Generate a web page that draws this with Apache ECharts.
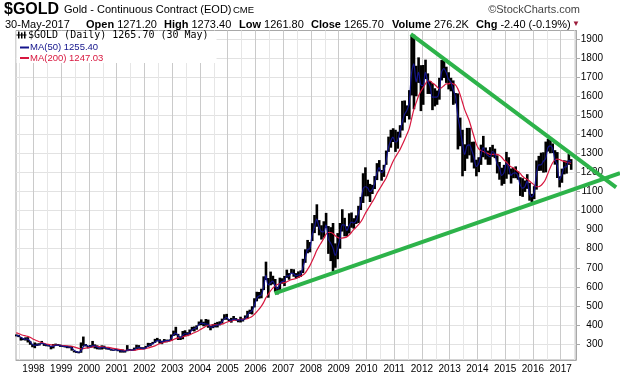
<!DOCTYPE html>
<html>
<head>
<meta charset="utf-8">
<script src="https://cdn.jsdelivr.net/npm/echarts@6/dist/echarts.min.js"></script>
<style>
  html, body { margin: 0; padding: 0; background: #fff; }
  #chart { width: 620px; height: 376px; }
</style>
</head>
<body>
<div id="chart"></div>
<script>
// monthly bars, May 1997 .. May 2017
const firstYear = 1997
const firstMonth = 5

const highs = [
  350, 348, 336, 330, 335, 336, 315, 300,
  308, 303, 304, 316, 304, 300, 296, 290, 300, 302, 300, 297,
  292, 292, 291, 290, 290, 265, 263, 259, 308, 339, 300, 290,
  294, 316, 298, 293, 282, 293, 291, 280, 279, 276, 270, 275,
  272, 269, 271, 268, 294, 274, 272, 281, 296, 294, 283, 283,
  290, 306, 305, 311, 327, 332, 325, 317, 326, 323, 323, 350,
  370, 390, 353, 340, 368, 372, 362, 376, 390, 392, 398, 418,
  429, 417, 431, 428, 396, 404, 411, 416, 419, 433, 456, 458,
  430, 437, 447, 436, 431, 443, 434, 450, 474, 480, 498, 540,
  574, 573, 590, 655, 732, 646, 680, 658, 641, 600, 648, 645,
  657, 690, 672, 694, 692, 672, 681, 686, 747, 797, 846, 835,
  934, 977, 1033, 950, 923, 944, 988, 919, 913, 935, 828, 882,
  935, 1007, 962, 918, 986, 990, 960, 975, 1025, 1072, 1196, 1227,
  1162, 1140, 1135, 1181, 1249, 1265, 1213, 1240, 1315, 1388, 1424, 1432,
  1424, 1414, 1448, 1576, 1578, 1552, 1632, 1917, 1923, 1760, 1804, 1763,
  1764, 1792, 1720, 1680, 1669, 1642, 1630, 1697, 1790, 1798, 1755, 1726,
  1697, 1683, 1617, 1615, 1488, 1424, 1348, 1434, 1434, 1361, 1362, 1267,
  1280, 1346, 1392, 1331, 1315, 1333, 1345, 1325, 1290, 1255, 1225, 1240,
  1308, 1280, 1221, 1224, 1232, 1206, 1175, 1170, 1158, 1191, 1146, 1088,
  1128, 1263, 1287, 1304, 1306, 1362, 1377, 1375, 1352, 1317, 1307, 1180,
  1220, 1264, 1262, 1298, 1270
]

const lows = [
  340, 336, 318, 320, 318, 308, 296, 283,
  278, 290, 292, 300, 290, 288, 287, 272, 277, 290, 290, 285,
  284, 282, 278, 278, 265, 256, 253, 251, 254, 290, 287, 277,
  280, 282, 276, 272, 271, 271, 275, 271, 270, 265, 264, 267,
  262, 255, 255, 255, 262, 266, 264, 265, 272, 275, 272, 272,
  277, 285, 288, 299, 306, 314, 302, 299, 310, 309, 313, 316,
  342, 345, 321, 321, 325, 341, 341, 349, 369, 366, 375, 397,
  399, 393, 396, 385, 372, 383, 387, 387, 398, 407, 427, 427,
  419, 412, 425, 422, 414, 413, 418, 432, 433, 458, 455, 492,
  524, 538, 540, 583, 636, 543, 608, 613, 573, 560, 583, 616,
  604, 647, 637, 672, 653, 642, 646, 652, 672, 726, 776, 781,
  840, 882, 915, 870, 848, 858, 909, 773, 735, 681, 700, 745,
  800, 890, 865, 865, 880, 910, 905, 930, 935, 1003, 1040, 1075,
  1075, 1045, 1087, 1113, 1160, 1205, 1157, 1177, 1240, 1308, 1330, 1360,
  1308, 1325, 1383, 1420, 1462, 1496, 1478, 1604, 1532, 1600, 1670, 1522,
  1555, 1690, 1612, 1612, 1527, 1547, 1555, 1582, 1683, 1696, 1670, 1636,
  1626, 1555, 1562, 1321, 1338, 1180, 1208, 1272, 1290, 1252, 1221, 1180,
  1202, 1240, 1280, 1268, 1240, 1240, 1282, 1275, 1195, 1162, 1131, 1140,
  1167, 1190, 1142, 1170, 1170, 1162, 1077, 1072, 1098, 1114, 1052, 1045,
  1060, 1110, 1208, 1209, 1199, 1201, 1310, 1301, 1302, 1241, 1171, 1122,
  1146, 1190, 1194, 1240, 1214
]

const ma50 = [
  345, 344, 335, 328, 325, 326, 315, 298,
  293, 295, 296, 303, 301, 295, 292, 287, 287, 293, 294, 292,
  289, 287, 286, 283, 280, 268, 260, 257, 262, 285, 295, 290,
  285, 292, 290, 284, 278, 281, 283, 278, 274, 271, 268, 269,
  267, 264, 263, 262, 268, 269, 268, 270, 278, 283, 279, 276,
  279, 290, 295, 300, 309, 318, 316, 311, 316, 318, 318, 328,
  348, 357, 346, 332, 345, 355, 352, 357, 373, 380, 386, 402,
  410, 407, 405, 403, 389, 390, 396, 399, 403, 416, 432, 440,
  428, 424, 431, 430, 424, 428, 425, 433, 450, 466, 474, 500,
  538, 552, 556, 595, 660, 610, 620, 630, 605, 590, 615, 628,
  630, 658, 656, 672, 668, 658, 662, 665, 700, 745, 795, 800,
  870, 912, 955, 915, 890, 888, 925, 850, 830, 805, 765, 800,
  850, 925, 925, 895, 920, 940, 935, 945, 985, 1035, 1110, 1125,
  1120, 1100, 1110, 1140, 1195, 1225, 1200, 1210, 1260, 1330, 1365, 1385,
  1360, 1368, 1415, 1465, 1505, 1525, 1565, 1720, 1770, 1675, 1725, 1660,
  1655, 1725, 1680, 1655, 1595, 1595, 1595, 1625, 1725, 1745, 1725, 1690,
  1675, 1635, 1600, 1500, 1430, 1355, 1295, 1340, 1345, 1318, 1280, 1232,
  1245, 1290, 1330, 1305, 1290, 1282, 1310, 1298, 1245, 1225, 1185, 1198,
  1245, 1230, 1185, 1196, 1198, 1183, 1135, 1118, 1125, 1155, 1092, 1072,
  1095, 1190, 1240, 1240, 1258, 1272, 1330, 1340, 1328, 1270, 1240, 1162,
  1188, 1228, 1230, 1262, 1255
]

const ma200 = [
  358, 355, 350, 346, 343, 340, 335, 328,
  322, 317, 312, 308, 304, 300, 298, 296, 294, 294, 294, 293,
  292, 291, 290, 289, 288, 285, 281, 277, 274, 276, 278, 280,
  282, 285, 287, 287, 286, 285, 284, 283, 282, 280, 277, 275,
  273, 271, 269, 267, 267, 267, 267, 267, 269, 271, 273, 274,
  276, 279, 282, 286, 290, 296, 301, 305, 309, 312, 315, 318,
  323, 328, 332, 334, 337, 341, 345, 348, 354, 359, 364, 371,
  378, 385, 392, 397, 399, 400, 401, 401, 402, 404, 408, 414,
  418, 421, 424, 427, 428, 429, 429, 430, 433, 438, 444, 455,
  468, 482, 497, 517, 542, 560, 578, 593, 605, 612, 617, 620,
  622, 626, 632, 638, 640, 644, 650, 655, 662, 672, 690, 710,
  735, 762, 790, 812, 832, 852, 875, 885, 885, 880, 868, 860,
  854, 856, 858, 862, 872, 885, 900, 912, 925, 940, 960, 985,
  1005, 1025, 1045, 1065, 1090, 1110, 1130, 1150, 1170, 1200, 1230, 1258,
  1280, 1300, 1320, 1345, 1372, 1400, 1430, 1480, 1530, 1565, 1600, 1625,
  1645, 1665, 1680, 1680, 1670, 1662, 1650, 1640, 1645, 1655, 1665, 1665,
  1670, 1665, 1660, 1640, 1610, 1570, 1530, 1500, 1470, 1430, 1390, 1350,
  1325, 1315, 1310, 1305, 1300, 1295, 1295, 1295, 1295, 1290, 1280, 1265,
  1255, 1240, 1230, 1225, 1215, 1205, 1195, 1180, 1170, 1165, 1155, 1145,
  1135, 1125, 1125, 1132, 1145, 1165, 1195, 1225, 1250, 1265, 1270, 1268,
  1262, 1258, 1254, 1251, 1247
]

const yearLabels = [1998, 1999, 2000, 2001, 2002, 2003, 2004, 2005, 2006, 2007,
  2008, 2009, 2010, 2011, 2012, 2013, 2014, 2015, 2016, 2017]
const priceTicks = [300, 400, 500, 600, 700, 800, 900, 1000, 1100, 1200,
  1300, 1400, 1500, 1600, 1700, 1800, 1900]

// trend lines drawn over the chart: [year, price]
const downTrend = [[2011.6, 1926], [2019.0, 1122]]
const upTrend = [[2006.69, 566], [2019.14, 1197]]

// month index -> decimal year (middle of month)
function monthPos(i) {
  return firstYear + (firstMonth - 1 + i + 0.5) / 12
}

const barData = highs.map((h, i) => [monthPos(i), h, lows[i]])
const ma50Data = ma50.map((v, i) => [monthPos(i), v])
const ma200Data = ma200.map((v, i) => [monthPos(i), v])
const halfYears = yearLabels.flatMap(y => [y - 0.5, y]).concat([2017.5])

const X_MIN = 1997.37
const X_MAX = 2017.554
const Y_MIN = 216
const Y_MAX = 1945
// the trend lines run past the price axis to the edge of the image,
// so they get a second, invisible grid with the same scale
const PLOT_LEFT = 16
const PLOT_RIGHT = 576
const X_MAX_WIDE = X_MIN + (X_MAX - X_MIN) * (620 - PLOT_LEFT) / (PLOT_RIGHT - PLOT_LEFT)

const GREEN = '#2db34a'
const sans = '"Liberation Sans", Arial, sans-serif'

function headerText(x, y, text, font, extra) {
  return { type: 'text', z: 10, style: Object.assign({ x, y, text, font, fill: '#000', verticalAlign: 'middle' }, extra || {}) }
}
const boldRich = { b: { font: 'bold 11px ' + sans, fill: '#000' } }

const chart = echarts.init(document.getElementById('chart'))

chart.setOption({
  animation: false,
  grid: [
    { left: PLOT_LEFT, right: 620 - PLOT_RIGHT, top: 30.5, bottom: 16, show: true, borderColor: '#a8a8a8', borderWidth: 1 },
    { left: PLOT_LEFT, right: 0, top: 30.5, bottom: 16 }
  ],
  xAxis: [
    {
      type: 'value',
      min: X_MIN,
      max: X_MAX,
      axisLine: { show: true, lineStyle: { color: '#a8a8a8' } },
      axisTick: { show: false, customValues: halfYears },
      axisLabel: {
        customValues: yearLabels,
        formatter: v => String(Math.round(v)),
        fontSize: 10, fontFamily: sans, color: '#000', margin: 4
      },
      splitLine: { show: true, lineStyle: { color: ['#e6e6e6', '#cacaca'], width: 1 } }
    },
    { type: 'value', gridIndex: 1, min: X_MIN, max: X_MAX_WIDE, show: false }
  ],
  yAxis: [
    {
      type: 'value',
      position: 'right',
      min: Y_MIN,
      max: Y_MAX,
      axisLine: { show: true, lineStyle: { color: '#a8a8a8' } },
      axisTick: { show: true, customValues: priceTicks, length: 4, lineStyle: { color: '#a8a8a8' } },
      axisLabel: {
        customValues: priceTicks,
        formatter: v => String(v),
        align: 'right', margin: 27,
        fontSize: 10, fontFamily: sans, color: '#000'
      },
      splitLine: { show: true, lineStyle: { color: '#e2e2e2' } }
    },
    { type: 'value', gridIndex: 1, min: Y_MIN, max: Y_MAX, show: false }
  ],
  series: [
    {
      type: 'custom',
      data: barData,
      encode: { x: 0, y: [1, 2] },
      z: 2,
      renderItem(params, api) {
        const x = api.value(0)
        const top = api.coord([x, api.value(1)])
        const bot = api.coord([x, api.value(2)])
        const w = api.size([1 / 12, 0])[0]
        return {
          type: 'rect',
          shape: { x: top[0] - w / 2, y: top[1], width: w + 0.3, height: Math.max(1, bot[1] - top[1]) },
          style: { fill: '#000' }
        }
      }
    },
    {
      type: 'line', data: ma200Data, symbol: 'none', smooth: 0.3, z: 3,
      lineStyle: { color: '#d8173f', width: 1.2 }
    },
    {
      type: 'line', data: ma50Data, symbol: 'none', smooth: 0.3, z: 4,
      lineStyle: { color: '#14148c', width: 1.2 }
    },
    {
      type: 'line', xAxisIndex: 1, yAxisIndex: 1, data: downTrend, symbol: 'none', clip: false, z: 5,
      lineStyle: { color: GREEN, width: 4 }
    },
    {
      type: 'line', xAxisIndex: 1, yAxisIndex: 1, data: upTrend, symbol: 'none', clip: false, z: 5,
      lineStyle: { color: GREEN, width: 4 }
    }
  ],
  graphic: [
    headerText(4, 9.5, '$GOLD', 'bold 16px ' + sans),
    headerText(64, 10, 'Gold - Continuous Contract (EOD)', '11px ' + sans),
    headerText(233, 10.5, 'CME', '9.5px ' + sans),
    headerText(580, 10, '\u00a9StockCharts.com', '11px ' + sans, { fill: '#444', align: 'right' }),
    headerText(5, 24.5, '30-May-2017', '11px ' + sans),
    headerText(86, 24.5, '{b|Open} 1271.20', '11px ' + sans, { rich: boldRich }),
    headerText(164, 24.5, '{b|High} 1273.40', '11px ' + sans, { rich: boldRich }),
    headerText(239, 24.5, '{b|Low} 1261.80', '11px ' + sans, { rich: boldRich }),
    headerText(311, 24.5, '{b|Close} 1265.70', '11px ' + sans, { rich: boldRich }),
    headerText(392, 24.5, '{b|Volume} 276.2K', '11px ' + sans, { rich: boldRich }),
    headerText(476, 24.5, '{b|Chg} -2.40 (-0.19%)', '11px ' + sans, { rich: boldRich }),
    headerText(572, 24, '\u25bc', '8px ' + sans, { fill: '#9b1b3a' }),
    // legend box inside the plot
    { type: 'rect', z: 9, shape: { x: 16.5, y: 31, width: 200, height: 32 }, style: { fill: '#fff' } },
    { type: 'rect', z: 10, shape: { x: 18, y: 31.5, width: 1.5, height: 7 }, style: { fill: '#000' } },
    { type: 'rect', z: 10, shape: { x: 21, y: 32.5, width: 1.5, height: 6 }, style: { fill: '#000' } },
    { type: 'rect', z: 10, shape: { x: 24, y: 31.5, width: 1.5, height: 7 }, style: { fill: '#000' } },
    { type: 'rect', z: 10, shape: { x: 16.5, y: 34.5, width: 10, height: 1 }, style: { fill: '#000' } },
    headerText(28, 35.5, '$GOLD (Daily) 1265.70 (30 May)', '10px "DejaVu Sans Mono", monospace'),
    { type: 'rect', z: 10, shape: { x: 20, y: 46.5, width: 9, height: 2 }, style: { fill: '#14148c' } },
    headerText(30, 47.5, 'MA(50) 1255.40', '9.5px ' + sans, { fill: '#14148c' }),
    { type: 'rect', z: 10, shape: { x: 20, y: 57, width: 9, height: 2 }, style: { fill: '#d8173f' } },
    headerText(30, 58, 'MA(200) 1247.03', '9.5px ' + sans, { fill: '#d8173f' })
  ]
})
</script>
</body>
</html>
